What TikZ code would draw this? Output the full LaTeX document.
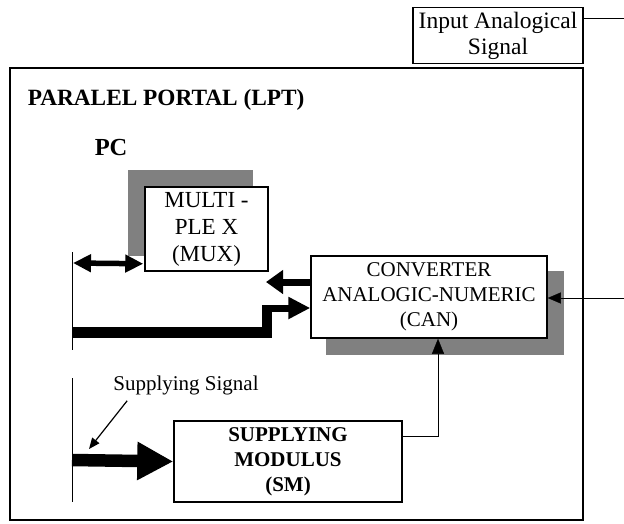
\documentclass[tikz,border=0pt]{standalone}
\usepackage{fontspec}
\setmainfont{Liberation Serif}
\usetikzlibrary{calc,arrows.meta,backgrounds}
\def\blocknode{\node[draw=black,line width=1.5pt,fill=white,align=center,inner sep=0pt]}
\def\shadowfill{\fill[color=black!50]}
\def\busdraw{\draw[line cap=butt]}

\begin{document}
\begin{tikzpicture}[x=1pt,y=-1pt,line width=1.5pt]
\useasboundingbox (0,0) rectangle (624,523);

% ---------- the frame of the PC
\draw[line width=1.8pt] (10,68) rectangle (583,520);
\node[anchor=base west,inner sep=0pt,font=\bfseries\fontsize{23.3}{28}\selectfont] (lpt) at (27,105) {PARALEL PORTAL (LPT)};
\node[anchor=base west,inner sep=0pt,font=\bfseries\fontsize{24.5}{28}\selectfont] (pc) at (94,155) {PC};

% ---------- input box on top
\blocknode[minimum width=170,minimum height=56,font=\fontsize{23.5}{26}\selectfont] (inp) at (498,35.5) {Input Analogical\\Signal};

% ---------- the three blocks
\blocknode[minimum width=123,minimum height=84,font=\fontsize{23}{27}\selectfont] (mux) at (206.5,229) {MULTI -\\PLE X\\(MUX)};
\blocknode[minimum width=236,minimum height=82,font=\fontsize{21}{25}\selectfont] (can) at (429,297) {CONVERTER\\ANALOGIC-NUMERIC\\(CAN)};
\blocknode[minimum width=228,minimum height=81,font=\bfseries\fontsize{21}{25}\selectfont] (sm) at (288,461.5) {SUPPLYING\\MODULUS\\(SM)};

% shadows behind mux and can
\begin{pgfonlayer}{background}
\shadowfill ($ (mux.south west) + (-16,-16) $) rectangle ($ (mux.north east) + (-16,-16) $);
\shadowfill ($ (can.south west) + (16,16) $) rectangle ($ (can.north east) + (16,16) $);
\end{pgfonlayer}

% ---------- the PC side lines
\coordinate (bartop) at (72,252);
\coordinate (barbot) at (72,350);
\coordinate (sbartop) at (72,378);
\coordinate (sbarbot) at (72,502);
\draw (bartop) to (barbot);
\draw (sbartop) to (sbarbot);

% mux <-> pc
\busdraw[line width=5.5pt,{Triangle[length=18pt,width=17pt]}-{Triangle[length=18pt,width=17pt]}] (73,263) to ($ (mux.south west) + (-1,-8) $);

% can -> pc
\busdraw[line width=7pt,-{Triangle[length=17pt,width=23pt]}] ($ (can.west) + (0,-15) $) to (266,282);

% pc -> can, the stepped bus
\coordinate (busturn) at (267,332);
\busdraw[line width=11pt] (72,332) to (busturn);
\busdraw[line width=10pt] ($ (busturn) + (0,5.5) $) to ($ (busturn) + (0,-27) $);
\busdraw[line width=7pt,-{Triangle[length=22pt,width=21pt]}] (262,308) to ($ (can.west) + (0,11) $);

% sm -> can
\draw[-{Triangle[length=15pt,width=12pt]}] ($ (sm.east) + (0,-25) $) -| ($ (can.south) + (9,0) $);

% input -> can, round the right side
\coordinate (outr) at (627,18.5);
\draw[-{Triangle[length=13pt,width=11pt]}] ($ (inp.east) + (0,-17) $) -- (outr) |- ($ (can.east) + (0,1) $);

% supplying signal
\busdraw[line width=12.5pt,-{Triangle[length=36pt,width=36pt]}] (72,460) to (sm.west);
\node[inner sep=0pt,font=\fontsize{21}{25}\selectfont] (sig) at (186,385) {Supplying Signal};
\coordinate (sigtip) at (89,449);
\draw[line width=1.2pt,-{Triangle[length=11pt,width=9pt]}] ($ (sig.south west) + (14,6) $) to (sigtip);
\end{tikzpicture}
\end{document}
